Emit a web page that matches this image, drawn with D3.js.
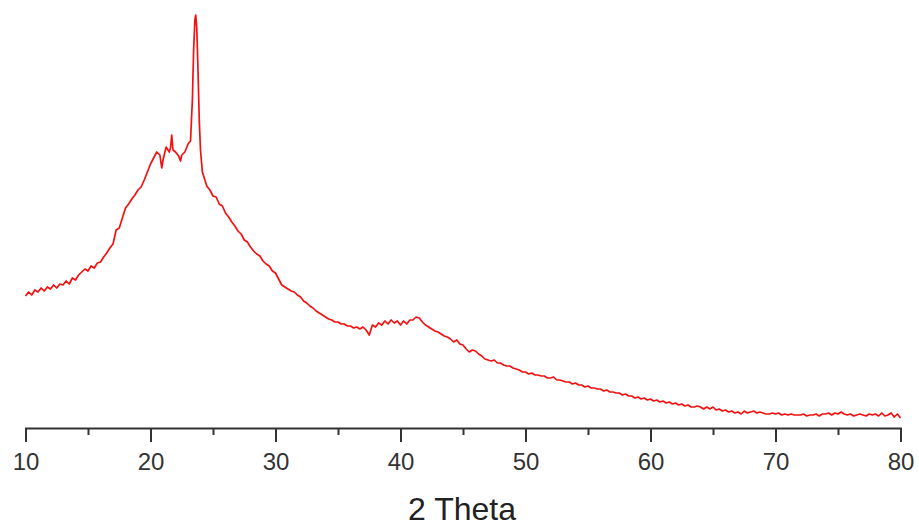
<!DOCTYPE html>
<html>
<head>
<meta charset="utf-8">
<script src="https://cdn.jsdelivr.net/npm/d3@7"></script>
<style>
  html, body { margin: 0; padding: 0; background: #ffffff; }
  svg { display: block; }
</style>
</head>
<body>
<svg id="chart" width="919" height="527"></svg>
<script>
// 2θ angles (degrees)
const twoTheta = [
  10,10.25,10.5,10.75, 11,11.25,11.5,11.75, 12,12.25,12.5,12.75, 13,13.25,13.5,13.75,
  14,14.25,14.5,14.75, 15,15.25,15.5,15.75, 16,16.25,16.5,16.75, 17,17.25,17.5,17.75,
  18,18.25,18.5,18.75, 19,19.25,19.5,19.75, 20,20.25,20.5,20.75, 20.9,
  21,21.25,21.5,21.6,21.7,21.8, 22,22.25,22.4,22.5,22.75,
  23,23.2,23.35,23.45,23.55,23.62,23.7,23.8,23.9, 24,24.15,24.25,24.5,24.75,
  25,25.25,25.5,25.75, 26,26.25,26.5,26.75, 27,27.25,27.5,27.75, 28,28.25,28.5,28.75,
  29,29.25,29.5,29.75, 30,30.25,30.5,30.75, 31,31.25,31.5,31.75, 32,32.25,32.5,32.75,
  33,33.25,33.5,33.75, 34,34.25,34.5,34.75, 35,35.25,35.5,35.75, 36,36.25,36.5,36.75,
  37,37.25,37.5,37.75, 38,38.25,38.5,38.75, 39,39.25,39.5,39.75, 40,40.25,40.5,40.75,
  41,41.25,41.5,41.75, 42,42.25,42.5,42.75, 43,43.25,43.5,43.75, 44,44.25,44.5,44.75,
  45,45.25,45.5,45.75, 46,46.25,46.5,46.75, 47,47.25,47.5,47.75, 48,48.25,48.5,48.75,
  49,49.25,49.5,49.75, 50,50.25,50.5,50.75, 51,51.25,51.5,51.75, 52,52.25,52.5,52.75,
  53,53.25,53.5,53.75, 54,54.25,54.5,54.75, 55,55.25,55.5,55.75, 56,56.25,56.5,56.75,
  57,57.25,57.5,57.75, 58,58.25,58.5,58.75, 59,59.25,59.5,59.75, 60,60.25,60.5,60.75,
  61,61.25,61.5,61.75, 62,62.25,62.5,62.75, 63,63.25,63.5,63.75, 64,64.25,64.5,64.75,
  65,65.25,65.5,65.75, 66,66.25,66.5,66.75, 67,67.25,67.5,67.75, 68,68.25,68.5,68.75,
  69,69.25,69.5,69.75, 70,70.25,70.5,70.75, 71,71.25,71.5,71.75, 72,72.25,72.5,72.75,
  73,73.25,73.5,73.75, 74,74.25,74.5,74.75, 75,75.25,75.5,75.75, 76,76.25,76.5,76.75,
  77,77.25,77.5,77.75, 78,78.25,78.5,78.75, 79,79.25,79.5,79.75, 80
];

// Intensity (a.u.)
const intensity = [
  132,136,133,138, 136,140,137,141, 139,143,140,144, 143,147,144,150,
  148,153,156,159, 157,162,160,165, 166,171,175,180, 184,198,200,210,
  220,224,229,233, 238,241,248,256, 264,270,276,273, 260,
  268,281,276,280,293,278, 276,272,267,273,276,
  284,287,328,378,408,413,400,358,308, 278,256,252,242,238,
  232,231,224,222, 215,211,206,202, 197,194,188,186, 181,177,174,172,
  167,164,162,157, 155,149,143,141, 139,137,136,133, 131,127,125,122,
  120,117,115,113, 111,109,108,106, 106,104,104,102, 102,100,101,99,
  101,98,93,103, 101,105,103,107, 104,108,105,107, 103,107,104,108,
  108,111,110,106, 103,101,99,97, 96,94,92,91, 89,86,88,84,
  83,79,76,78, 77,74,72,69, 68,67,68,65, 65,63,62,62,
  60,59,58,56, 56,54,55,53, 53,52,52,50, 50,51,48,48,
  47,46,46,44, 45,43,43,41, 42,40,40,39, 39,37,38,36,
  36,35,35,33, 34,32,32,30, 31,29,30,28, 29,27,28,26,
  27,25,26,24, 25,23,24,22, 23,21,21,22, 21,19,21,19,
  21,18,19,17, 18,16,17,15, 16,14,17,15, 16,17,15,16,
  15,14,14,15, 14,15,13,14, 13,14,13,13, 13,14,12,13,
  13,14,12,14, 14,15,13,15, 14,16,14,13, 14,12,13,14,
  13,12,14,13, 14,12,15,12, 13,15,11,14, 10
];

const majorTicks = [10, 20, 30, 40, 50, 60, 70, 80];
const minorTicks = [15, 25, 35, 45, 55, 65, 75];
const xTitle = "2 Theta";

const svg = d3.select("#chart");
const axisY = 428;

const x = d3.scaleLinear().domain([10, 80]).range([25.5, 900.5]);
const y = d3.scaleLinear().domain([0, 420]).range([axisY, 8]);

const data = twoTheta.map((t, i) => ({ t, v: intensity[i] }));

// spectrum line
svg.append("path")
  .datum(data)
  .attr("fill", "none")
  .attr("stroke", "#f51010")
  .attr("stroke-width", 1.7)
  .attr("stroke-linejoin", "round")
  .attr("d", d3.line().x(d => x(d.t)).y(d => y(d.v)));

// minor ticks
const gMinor = svg.append("g")
  .attr("transform", `translate(0,${axisY})`)
  .call(d3.axisBottom(x).tickValues(minorTicks).tickSize(7).tickSizeOuter(0).tickFormat(""));
gMinor.select(".domain").remove();
gMinor.selectAll("line").attr("stroke", "#333").attr("stroke-width", 2);

// major axis
const gAxis = svg.append("g")
  .attr("transform", `translate(0,${axisY})`)
  .call(d3.axisBottom(x).tickValues(majorTicks).tickSize(14).tickSizeOuter(14).tickFormat(d3.format("d")));
gAxis.select(".domain").attr("stroke", "#333").attr("stroke-width", 2);
gAxis.selectAll(".tick line").attr("stroke", "#333").attr("stroke-width", 2);
gAxis.selectAll(".tick text")
  .attr("y", 42)
  .attr("dy", null)
  .attr("fill", "#333")
  .style("font-family", "'Liberation Sans', Arial, sans-serif")
  .style("font-size", "24px");

// axis title
svg.append("text")
  .attr("x", 462)
  .attr("y", 520)
  .attr("text-anchor", "middle")
  .attr("fill", "#222")
  .style("font-family", "'Liberation Sans', Arial, sans-serif")
  .style("font-size", "32px")
  .text(xTitle);
</script>
</body>
</html>
